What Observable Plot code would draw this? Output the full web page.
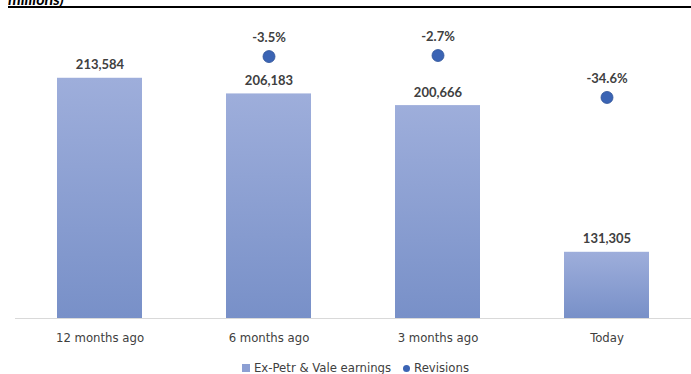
<!DOCTYPE html>
<html><head><meta charset="utf-8">
<script src="https://cdn.jsdelivr.net/npm/d3@7"></script>
<script src="https://cdn.jsdelivr.net/npm/@observablehq/plot@0.6"></script>
<style>
body{margin:0;background:#fff;font-family:Lato,"Open Sans",sans-serif;width:691px;height:374px;overflow:hidden}
#title{height:6px;overflow:hidden;margin-left:8px;border-bottom:2.5px solid #000;position:relative}
#title span{position:absolute;bottom:-1px;left:0;font:bold italic 16px Lato,sans-serif;line-height:16px;color:#000}
#legend{display:flex;justify-content:center;gap:12px;font:13px "Liberation Sans Narrow","DejaVu Sans Condensed",sans-serif;color:#404040;margin-top:2px;margin-left:20px}
#legend .sw{display:inline-block;width:8px;height:8px;background:#8c9fd3;margin-right:4px}
#legend .dt{display:inline-block;width:7px;height:7px;border-radius:50%;background:#3b64b4;margin-right:4px}
</style></head><body>
<div id="title"><span>millions)</span></div>
<div id="chart"></div>
<div id="legend"><span><span class="sw"></span>Ex-Petr &amp; Vale earnings</span><span><span class="dt"></span>Revisions</span></div>
<script>
const categories = ["12 months ago","6 months ago","3 months ago","Today"];
const earnings = [213584, 206183, 200666, 131305];
const revisions = [null, -3.5, -2.7, -34.6];
const earningsLabels = ["213,584","206,183","200,666","131,305"];
const revisionLabels = ["", "-3.5%", "-2.7%", "-34.6%"];

const yDomain = [100000, 246100];
const secondaryDomain = [-202.7, 32.3];
const sec = d3.scaleLinear().domain(secondaryDomain).range(yDomain);

const bars = categories.map((c,i)=>({c, v: earnings[i], label: earningsLabels[i]}));
const dots = categories.map((c,i)=>({c, r: revisions[i], label: revisionLabels[i]})).filter(d=>d.r!==null);

const chart = Plot.plot({
  width: 691, height: 350,
  marginTop: 1, marginBottom: 40, marginLeft: 15, marginRight: 0,
  style: {fontFamily: "Lato, sans-serif", color: "#404040", background: "#fff"},
  x: {domain: categories, paddingInner: 0.5, paddingOuter: 0.25, label: null},
  y: {domain: yDomain, axis: null},
  marks: [
    Plot.barY(bars, {x: "c", y1: yDomain[0], y2: "v", fill: "url(#barGrad)"}),
    Plot.ruleY([yDomain[0]], {stroke: "#d9d9d9", strokeWidth: 1.2}),
    Plot.text(bars, {x: "c", y: "v", text: "label", dy: -13, fontWeight: "bold", fontSize: 13, fill: "#404040"}),
    Plot.dot(dots, {x: "c", y: d=>sec(d.r), r: 6, fill: "#3b64b4", stroke: "#2f5398", strokeWidth: 0.8}),
    Plot.text(dots, {x: "c", y: d=>sec(d.r), text: "label", dy: -19, fontWeight: "bold", fontSize: 13, fill: "#404040"}),
    Plot.axisX({tickSize: 0, tickPadding: 14, fontSize: 13, fontFamily: "'Liberation Sans Narrow','DejaVu Sans Condensed',sans-serif", label: null, fill: "#404040"})
  ]
});
const svg = d3.select(chart);
const defs = svg.insert("defs", ":first-child");
const g = defs.append("linearGradient").attr("id","barGrad").attr("x1",0).attr("y1",0).attr("x2",0).attr("y2",1);
g.append("stop").attr("offset","0%").attr("stop-color","#9eaedb");
g.append("stop").attr("offset","100%").attr("stop-color","#7890c8");
document.getElementById("chart").appendChild(chart);
</script>
</body></html>
